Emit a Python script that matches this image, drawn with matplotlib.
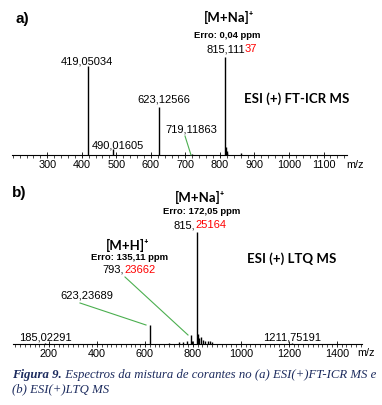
import matplotlib
matplotlib.use("Agg")
import matplotlib.pyplot as plt
import matplotlib.transforms as mtransforms
from matplotlib.ticker import MultipleLocator

# panel a: ESI(+) FT-ICR MS (relative intensity, %)
mz_a = [419.05034, 490.01605, 623.12566, 719.11863, 815.11137, 817.1, 819.1, 821.1, 862.0]
int_a = [91, 6, 49, 1.5, 100, 8, 4, 2, 2]
ticks_a = [300, 400, 500, 600, 700, 800, 900, 1000, 1100]

# panel b: ESI(+) LTQ MS
mz_b = [185.02291, 623.23689, 700, 740, 760, 775, 793.23662, 798, 815.25164,
        820, 825, 833, 841, 850, 862, 872, 880, 1211.75191]
int_b = [0.5, 17, 1, 1.5, 2, 3, 8, 3, 100, 9, 5, 6, 4, 3, 2.5, 3, 2, 0.5]
ticks_b = [200, 400, 600, 800, 1000, 1200, 1400]

W, H = 382, 405
fig = plt.figure(figsize=(W / 100, H / 100), dpi=100)
fig.patch.set_facecolor("white")

# top-left pixel coordinates
px = mtransforms.Affine2D().scale(1 / W, -1 / H).translate(0, 1) + fig.transFigure

sans = "Liberation Sans"
cal = ["Lato", "DejaVu Sans"]
green = "#4caf50"


def box(x0, y0, x1, y1):
    return [x0 / W, 1 - y1 / H, (x1 - x0) / W, (y1 - y0) / H]


def spectrum(ax, mz, inten, ticks, xlim, ylim, minor):
    ax.vlines(mz, 0, inten, color="black", lw=1.0)
    ax.set_xlim(*xlim)
    ax.set_ylim(*ylim)
    for s in ["top", "right", "left"]:
        ax.spines[s].set_visible(False)
    ax.spines["bottom"].set_linewidth(0.8)
    ax.set_yticks([])
    ax.set_xticks(ticks)
    ax.xaxis.set_minor_locator(MultipleLocator(minor))
    ax.tick_params(axis="x", which="major", direction="inout", length=4, width=0.6,
                   labelsize=7.8, pad=1.5)
    ax.tick_params(axis="x", which="minor", direction="out", length=2, width=0.5)
    for lb in ax.get_xticklabels():
        lb.set_fontfamily(sans)
    ax.patch.set_alpha(0)


def label(x, y, s, **kw):
    fig.text(x, y, s, transform=px, family=sans, fontsize=8, ha="center", va="center", **kw)


def two_tone(x, y, black, red):
    # x is where the black part ends and the red part starts
    fig.text(x, y, black, transform=px, family=sans, fontsize=8, ha="right", va="baseline")
    fig.text(x, y, red, transform=px, family=sans, fontsize=8, ha="left", va="baseline",
             color="red")


def ion(x, y, s):
    fig.text(x, y, s, transform=px, fontsize=9.5, fontweight="bold", family=cal,
             ha="center", va="center")


def erro(x, y, s):
    fig.text(x, y, s, transform=px, fontsize=6.8, fontweight="bold", family=sans,
             ha="center", va="center")


# ---- panel a
ax1 = fig.add_axes(box(12, 10, 347, 155))
spectrum(ax1, mz_a, int_a, ticks_a, (198, 1168), (0, 148), 20)

fig.text(16, 19, "a)", transform=px, fontsize=11, fontweight="bold", family=sans, va="center")
ion(229, 17, "[M+Na]\u207a")
erro(227, 35, "Erro: 0,04 ppm")
two_tone(245, 52, "815,111", "37")
label(87, 61, "419,05034")
label(164, 100, "623,12566")
label(191, 130, "719,11863")
label(118, 146, "490,01605")
fig.add_artist(plt.Line2D([185, 191], [136, 155], transform=px, color=green, lw=0.8))
fig.text(297, 99, "ESI (+) FT-ICR MS", transform=px, fontsize=9.5, fontweight="bold",
         family=cal, ha="center", va="center")
fig.text(355, 165, "m/z", transform=px, fontsize=7.8, family=sans, ha="center", va="center")

# ---- panel b
ax2 = fig.add_axes(box(13, 200, 362, 344))
spectrum(ax2, mz_b, int_b, ticks_b, (50, 1505), (0, 129), 20)

fig.text(12, 193, "b)", transform=px, fontsize=11, fontweight="bold", family=sans, va="center")
ion(200, 197, "[M+Na]\u207a")
erro(202, 212, "Erro: 172,05 ppm")
two_tone(195, 228, "815,", "25164")
ion(128, 245, "[M+H]\u207a")
erro(130, 258, "Erro: 135,11 ppm")
two_tone(124, 273, "793,", "23662")
label(87, 296, "623,23689")
label(45, 337, "185,02291")
label(292, 337, "1211,75191")
fig.add_artist(plt.Line2D([125, 188], [277, 335], transform=px, color=green, lw=0.8))
fig.add_artist(plt.Line2D([80, 146], [303, 325], transform=px, color=green, lw=0.8))
fig.text(292, 259, "ESI (+) LTQ MS", transform=px, fontsize=9.5, fontweight="bold",
         family=cal, ha="center", va="center")
fig.text(366, 353, "m/z", transform=px, fontsize=7.8, family=sans, ha="center", va="center")

# ---- caption
navy = "#1c2b5e"
serif = "Liberation Serif"
c1 = fig.text(12, 375, "Figura 9.", transform=px, fontsize=9.2, fontweight="bold",
              style="italic", family=serif, color=navy, va="center")
ax2.annotate(" Espectros da mistura de corantes no (a) ESI(+)FT-ICR MS e", xy=(1, 0.5),
             xycoords=c1, ha="left", va="center", fontsize=9.2, style="italic",
             family=serif, color=navy)
fig.text(12, 389, "(b) ESI(+)LTQ MS", transform=px, fontsize=9.2, style="italic",
         family=serif, color=navy, va="center")

fig.savefig("out.png", dpi=100)
